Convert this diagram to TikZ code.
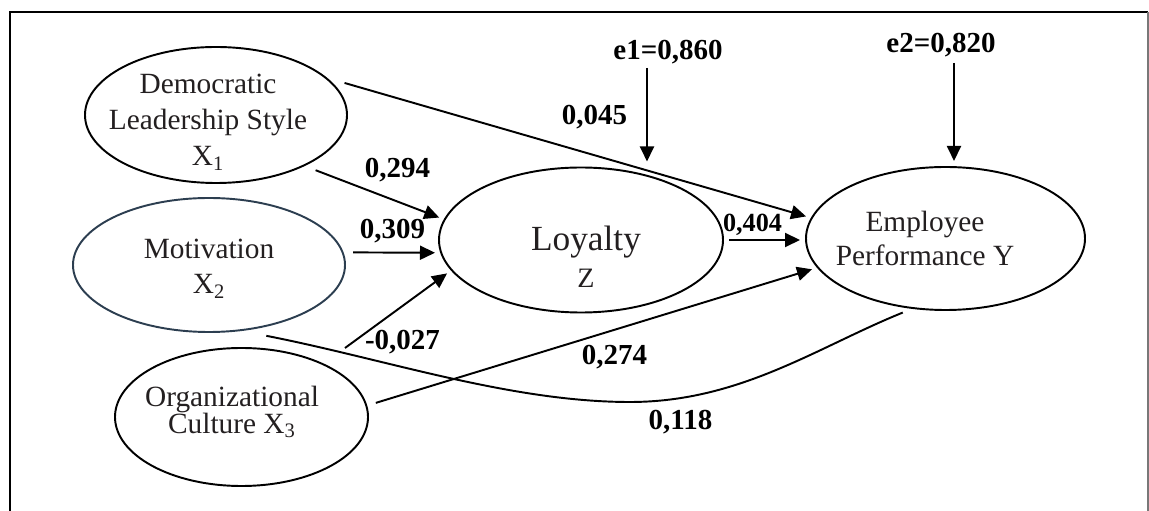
\documentclass[tikz,border=0pt]{standalone}
\usepackage{fontspec}
\setmainfont{Liberation Serif}
\usepackage{tikz}
\usetikzlibrary{shapes.geometric,arrows.meta,positioning,calc}
\usepackage{xcolor}
\definecolor{slateline}{RGB}{44,62,80}
\definecolor{inkgrey}{RGB}{35,31,32}
\definecolor{framegrey}{RGB}{120,120,120}

\begin{document}
\begin{tikzpicture}[
    latent/.style={ellipse, draw, line width=1.1pt, inner sep=0pt, outer sep=0.2cm},
    target/.style={latent, outer sep=0.12cm},
    txt/.style={text=inkgrey, align=center, inner sep=0pt},
    coef/.style={font=\fontsize{16.5}{18}\selectfont\bfseries, inner sep=0pt},
    arrow/.style={-{Triangle[length=0.3cm,width=0.28cm]}, line width=1.1pt}
]
\useasboundingbox (0,0) rectangle (22.98,10.22);
% frame
\draw[line width=1.1pt] (0.2,0) -- (0.2,9.98) -- (22.96,9.98);
\draw[line width=1.1pt, framegrey] (22.96,9.98) -- (22.96,0);

% latent variables
\node[latent, minimum width=5.24cm, minimum height=2.72cm,
  label={[txt, font=\fontsize{16.7}{20.5}\selectfont, shift={(-0.16,-0.15)}]center:Democratic\\Leadership Style\\X\textsubscript{1}}] (X1) at (4.32,7.92) {};
\node[latent, draw=slateline, minimum width=5.44cm, minimum height=2.68cm,
  label={[txt, font=\fontsize{16.7}{19.9}\selectfont, shift={(0,-0.08)}]center:Motivation\\X\textsubscript{2}}] (X2) at (4.18,4.92) {};
\node[latent, minimum width=5.06cm, minimum height=2.76cm,
  label={[txt, font=\fontsize{16.7}{15.4}\selectfont, shift={(-0.19,0.1)}]center:Organizational\\Culture X\textsubscript{3}}] (X3) at (4.83,1.88) {};
\node[target, minimum width=5.68cm, minimum height=2.9cm,
  label={[txt, font=\fontsize{16}{21}\selectfont, shift={(0.1,-0.33)}]center:{\fontsize{20.1}{21}\selectfont Loyalty}\\Z}] (Z) at (11.62,5.42) {};
\node[target, minimum width=5.58cm, minimum height=2.86cm,
  label={[txt, font=\fontsize{16.7}{19.4}\selectfont, shift={(-0.41,0)}]center:Employee\\Performance Y}] (Y) at (18.91,5.45) {};

% residuals
\node[coef] (e1) at (13.36,9.18) {e1=0,860};
\node[coef] (e2) at (18.82,9.31) {e2=0,820};
\coordinate (e1in) at (12.94,8.86);
\coordinate (e2in) at (19.08,8.96);
\draw[arrow] (e1in) -- (e1in |- Z.north);
\draw[arrow] (e2in) -- (e2in |- Y.north);

% paths
\coordinate (x3top) at (6.9,3.26);
\draw[arrow] (X1.14) -- (Y.171);
\draw[arrow] (X1.-29) -- (Z.171);
\draw[arrow] (X2.5) -- (Z.185);
\draw[arrow] (x3top) -- (Z.194);
\draw[arrow] (X3.6) -- (Y.193);
\draw[arrow] (Z.east) -- (Z.east -| Y.west);
\draw[line width=1.1pt] (X2.-51) .. controls (7.7,3.04) and (10.2,2.18) .. (12.6,2.18)
  .. controls (14.8,2.18) and (16.35,3.28) .. (Y.240);

% coefficients
\node[coef] (c045) at (11.89,7.87) {0,045};
\node[coef] (c294) at (7.95,6.82) {0,294};
\node[coef] (c309) at (7.85,5.59) {0,309};
\node[coef, font=\fontsize{14.9}{16}\selectfont\bfseries] (c404) at (15.05,5.72) {0,404};
\node[coef] (c027) at (8.05,3.37) {-0,027};
\node[coef] (c274) at (12.29,3.08) {0,274};
\node[coef] (c118) at (13.61,1.77) {0,118};
\end{tikzpicture}
\end{document}
